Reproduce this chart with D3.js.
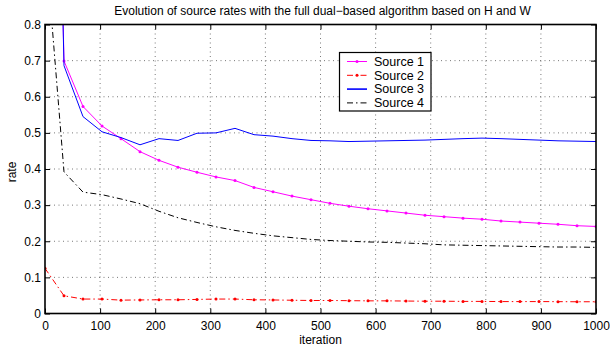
<!DOCTYPE html>
<html><head><meta charset="utf-8">
<script src="https://cdn.jsdelivr.net/npm/d3@7"></script>
<style>
html,body{margin:0;padding:0;background:#fff;}
text{font-family:"Liberation Sans",Arial,Helvetica,sans-serif;}
</style></head>
<body>
<svg id="chart" width="610" height="350"></svg>
<script>
// ---- data ----
const iterations = d3.range(30).map(i => i * 1000 / 29);
const source1 = [3.0,0.699,0.573,0.519,0.484,0.448,0.424,0.405,0.391,0.378,0.368,0.349,0.337,0.325,0.315,0.305,0.297,0.290,0.284,0.278,0.272,0.268,0.264,0.261,0.256,0.253,0.250,0.247,0.243,0.241];
const source2 = [0.125,0.049,0.040,0.040,0.037,0.0375,0.038,0.038,0.039,0.040,0.040,0.038,0.0375,0.0367,0.036,0.036,0.0355,0.035,0.035,0.0345,0.034,0.034,0.0335,0.0335,0.033,0.033,0.033,0.0328,0.0325,0.0325];
const source3 = [3.0,0.686,0.545,0.503,0.487,0.467,0.484,0.479,0.499,0.500,0.5125,0.495,0.491,0.484,0.479,0.478,0.476,0.477,0.478,0.479,0.480,0.482,0.484,0.4855,0.484,0.482,0.480,0.478,0.477,0.476];
const source4 = [1.04,0.392,0.336,0.329,0.317,0.304,0.283,0.265,0.252,0.240,0.230,0.222,0.215,0.210,0.205,0.202,0.200,0.198,0.197,0.195,0.193,0.190,0.189,0.188,0.187,0.186,0.185,0.184,0.184,0.183];
const seriesNames = ["Source 1","Source 2","Source 3","Source 4"];
const xTicks = [0,100,200,300,400,500,600,700,800,900,1000];
const yTicks = [0,0.1,0.2,0.3,0.4,0.5,0.6,0.7,0.8];
const titleText = "Evolution of source rates with the full dual\u2212based algorithm based on H and W";
const xLabel = "iteration";
const yLabel = "rate";

// ---- layout ----
const L = 45, R = 596, T = 24.5, B = 313.5;
const svg = d3.select("#chart");
const x = d3.scaleLinear().domain([0,1000]).range([L,R]);
const y = d3.scaleLinear().domain([0,0.8]).range([B,T]);

const series = [
  {name:seriesNames[0], values:source1, color:"#ff00ff", dash:null, marker:true},
  {name:seriesNames[1], values:source2, color:"#ff0000", dash:"6,3,1.5,3", marker:true},
  {name:seriesNames[2], values:source3, color:"#0000ff", dash:null, marker:false},
  {name:seriesNames[3], values:source4, color:"#000000", dash:"6,3,1.5,3", marker:false}
];

// grid
const grid = svg.append("g");
xTicks.slice(1,-1).forEach(t => grid.append("line")
  .attr("x1",x(t)).attr("x2",x(t)).attr("y1",T).attr("y2",B)
  .attr("stroke","#555").attr("stroke-width",0.8).attr("stroke-dasharray","1,3.5"));
yTicks.slice(1,-1).forEach(t => grid.append("line")
  .attr("x1",L).attr("x2",R).attr("y1",y(t)).attr("y2",y(t))
  .attr("stroke","#555").attr("stroke-width",0.8).attr("stroke-dasharray","1,3.5"));

// axes with inward ticks
const xAxisB = d3.axisBottom(x).tickValues(xTicks).tickFormat(d3.format("d")).tickSizeInner(-5).tickSizeOuter(0).tickPadding(8);
const xAxisT = d3.axisTop(x).tickValues(xTicks).tickFormat("").tickSizeInner(-5).tickSizeOuter(0);
const yAxisL = d3.axisLeft(y).tickValues(yTicks).tickFormat(d => d===0 ? "0" : d3.format(".1f")(d)).tickSizeInner(-5).tickSizeOuter(0).tickPadding(4);
const yAxisR = d3.axisRight(y).tickValues(yTicks).tickFormat("").tickSizeInner(-5).tickSizeOuter(0);

function styleAxis(g){
  g.select(".domain").remove();
  g.selectAll(".tick line").attr("stroke","#000").attr("stroke-width",1);
  g.selectAll("text").attr("font-size",12).attr("fill","#000")
    .style("font-family","'Liberation Sans',Arial,sans-serif");
}
svg.append("g").attr("transform",`translate(0,${B})`).call(xAxisB).call(styleAxis);
svg.append("g").attr("transform",`translate(0,${T})`).call(xAxisT).call(styleAxis);
svg.append("g").attr("transform",`translate(${L},0)`).call(yAxisL).call(styleAxis);
svg.append("g").attr("transform",`translate(${R},0)`).call(yAxisR).call(styleAxis);

// clip
svg.append("clipPath").attr("id","clip").append("rect")
  .attr("x",L).attr("y",T).attr("width",R-L).attr("height",B-T);

const line = d3.line().x((d,i)=>x(iterations[i])).y(d=>y(d));
const plot = svg.append("g").attr("clip-path","url(#clip)");
series.forEach(s => {
  plot.append("path").datum(s.values).attr("d",line)
    .attr("fill","none").attr("stroke",s.color).attr("stroke-width",1)
    .attr("stroke-dasharray",s.dash);
  if (s.marker) {
    plot.selectAll(null).data(s.values).enter().append("circle")
      .attr("cx",(d,i)=>x(iterations[i])).attr("cy",d=>y(d)).attr("r",1.5)
      .attr("fill",s.color);
  }
});

// frame
svg.append("rect").attr("x",L).attr("y",T).attr("width",R-L).attr("height",B-T)
  .attr("fill","none").attr("stroke","#000").attr("stroke-width",1.6);

// title & labels
svg.append("text").attr("x",(L+R)/2+2).attr("y",15).attr("text-anchor","middle")
  .attr("font-size",12).text(titleText);
svg.append("text").attr("x",(L+R)/2).attr("y",344).attr("text-anchor","middle")
  .attr("font-size",12).text(xLabel);
svg.append("text").attr("transform",`translate(16,${(T+B)/2+3}) rotate(-90)`)
  .attr("text-anchor","middle").attr("font-size",12).text(yLabel);

// legend
const lg = svg.append("g");
lg.append("rect").attr("x",339.5).attr("y",52.5).attr("width",91.5).attr("height",58.5)
  .attr("fill","#fff").attr("stroke","#000").attr("stroke-width",1.2);
series.forEach((s,i) => {
  const yy = 61.5 + i*13.8;
  lg.append("line").attr("x1",347).attr("x2",367).attr("y1",yy).attr("y2",yy)
    .attr("stroke",s.color).attr("stroke-width",s.name==="Source 3"?1.6:1).attr("stroke-dasharray",s.dash);
  if (s.marker) lg.append("circle").attr("cx",357).attr("cy",yy).attr("r",1.5).attr("fill",s.color);
  lg.append("text").attr("x",374).attr("y",yy+4.2).attr("font-size",12.5).text(s.name);
});
</script>
</body></html>
